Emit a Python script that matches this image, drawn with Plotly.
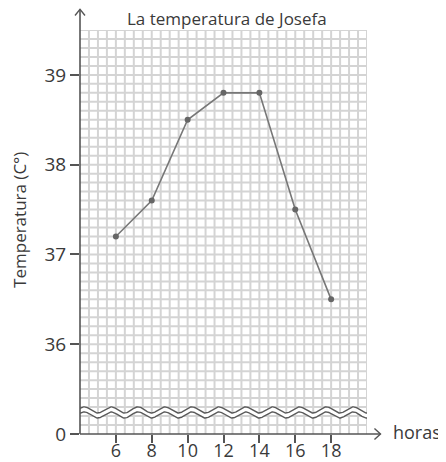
import numpy as np
import plotly.graph_objects as go

# Data
horas = [6, 8, 10, 12, 14, 16, 18]
temperatura = [37.2, 37.6, 38.5, 38.8, 38.8, 37.5, 36.5]
y_tickvals = [35, 36, 37, 38, 39]
y_ticktext = ["0", "36", "37", "38", "39"]
titulo = "La temperatura de Josefa"
eje_y = "Temperatura (C°)"
eje_x = "horas"

FONT = "Open Sans"
TXT = "#3a3a3a"
AX = "#555555"
GRID = "#d4d4d4"

X0, X1 = 4, 20
Y0, Y1 = 35, 39.5

fig = go.Figure()

shapes = []
# grid (decoration)
for gx in np.arange(X0 + 0.5, X1 + 0.001, 0.5):
    shapes.append(dict(type="line", xref="x", yref="y", x0=gx, x1=gx, y0=Y0, y1=Y1,
                       line=dict(color=GRID, width=2), layer="below"))
for gy in np.arange(Y0 + 0.1, Y1 + 0.001, 0.1):
    shapes.append(dict(type="line", xref="x", yref="y", x0=X0, x1=X1, y0=gy, y1=gy,
                       line=dict(color=GRID, width=2), layer="below"))

# axis break waves (decoration)
wx = np.linspace(X0, X1, 400)
center = 35.24
amp = 0.034
off = 0.028
wave = amp * np.sin(2 * np.pi * (wx - X0) / 1.5 + 0.6)
fig.add_trace(go.Scatter(x=wx, y=center + wave, mode="lines",
                         line=dict(color="white", width=5), hoverinfo="skip", showlegend=False))
for s in (-1, 1):
    fig.add_trace(go.Scatter(x=wx, y=center + wave + s * off, mode="lines",
                             line=dict(color="#5a5a5a", width=1.4), hoverinfo="skip", showlegend=False))

# data
fig.add_trace(go.Scatter(x=horas, y=temperatura, mode="lines+markers",
                         line=dict(color="#777777", width=1.6),
                         marker=dict(color="#666666", size=6), showlegend=False))

# axes lines with arrows
shapes.append(dict(type="line", xref="paper", yref="paper", x0=0, x1=0, y0=0, y1=1.051,
                   line=dict(color=AX, width=1.6)))
shapes.append(dict(type="line", xref="paper", yref="paper", x0=0, x1=1.047, y0=0, y1=0,
                   line=dict(color=AX, width=1.6)))
shapes.append(dict(type="path", xref="paper", yref="paper",
                   path="M -0.0174 1.036 L 0 1.051 L 0.0174 1.036",
                   line=dict(color=AX, width=1.4)))
shapes.append(dict(type="path", xref="paper", yref="paper",
                   path="M 1.026 0.0135 L 1.047 0 L 1.026 -0.0135",
                   line=dict(color=AX, width=1.4)))

fig.update_layout(
    width=446, height=462, autosize=False,
    margin=dict(l=72, t=22, r=87, b=36),
    paper_bgcolor="white", plot_bgcolor="white",
    shapes=shapes,
    font=dict(family=FONT, color=TXT),
    xaxis=dict(range=[X0, X1], tickmode="array", tickvals=horas, automargin=False,
               ticks="outside", ticklen=8, tickcolor=AX, tickwidth=1.6,
               ticklabelstandoff=-8,
               showgrid=False, zeroline=False, showline=False,
               tickfont=dict(size=18, color=TXT, family=FONT)),
    yaxis=dict(range=[Y0, Y1], tickmode="array", tickvals=y_tickvals, ticktext=y_ticktext,
               automargin=False,
               ticks="outside", ticklen=9, tickcolor=AX, tickwidth=1.6,
               showgrid=False, zeroline=False, showline=False,
               tickfont=dict(size=19, color=TXT, family=FONT)),
    annotations=[
        dict(text=titulo, xref="paper", yref="paper", x=0.5136, y=1.0285,
             xanchor="center", yanchor="middle", showarrow=False,
             font=dict(size=17, color=TXT, family=FONT)),
        dict(text=eje_x, xref="paper", yref="paper", x=1.085, y=0.004,
             xanchor="left", yanchor="middle", showarrow=False,
             font=dict(size=18, color=TXT, family=FONT)),
        dict(text=eje_y, xref="paper", yref="paper", x=-0.211, y=0.531,
             xanchor="center", yanchor="middle", showarrow=False, textangle=-90,
             font=dict(size=17, color=TXT, family=FONT)),
    ],
)

fig.write_html("out.html")
